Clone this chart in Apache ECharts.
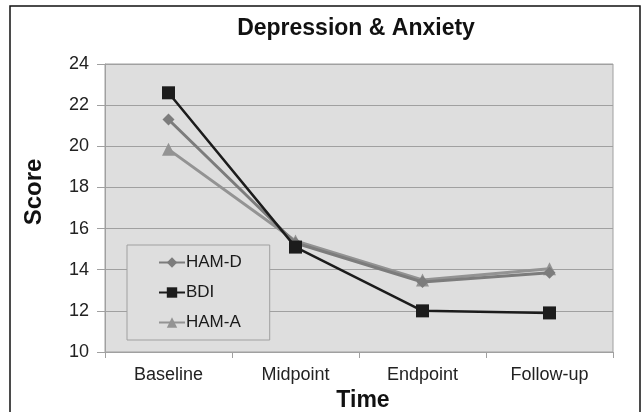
<!DOCTYPE html>
<html>
<head>
<meta charset="utf-8">
<script src="https://cdn.jsdelivr.net/npm/echarts@6/dist/echarts.min.js"></script>
<style>
  html, body { margin: 0; padding: 0; background: #fff; }
  #main { width: 642px; height: 412px; }
</style>
</head>
<body>
<div id="main"></div>
<script>
// chart data
const timePoints = ['Baseline', 'Midpoint', 'Endpoint', 'Follow-up']
const hamD = [21.3, 15.3, 13.4, 13.85]
const bdi = [22.6, 15.1, 12.0, 11.9]
const hamA = [19.85, 15.4, 13.5, 14.05]
const scoreTicks = [10, 12, 14, 16, 18, 20, 22, 24]

const chart = echarts.init(document.getElementById('main'))

const font = 'Liberation Sans, Arial, sans-serif'

let option = {
    backgroundColor: '#fff',
    animation: false,
    textStyle: { fontFamily: font },
    title: {
        text: 'Depression & Anxiety',
        left: 351,
        top: 12,
        textAlign: 'center',
        textStyle: { fontSize: 23, fontWeight: 'bold', color: '#111', fontFamily: font }
    },
    grid: {
        left: 105,
        right: 29,
        top: 64,
        bottom: 60,
        outerBoundsMode: 'none',
        containLabel: false,
        show: true,
        backgroundColor: '#dedede',
        borderColor: '#a0a0a0',
        borderWidth: 1
    },
    legend: {
        orient: 'vertical',
        left: 127,
        top: 245,
        itemWidth: 26,
        itemHeight: 13,
        itemGap: 13,
        padding: [9, 28, 9, 31],
        backgroundColor: '#dedede',
        borderColor: '#a0a0a0',
        borderWidth: 1,
        borderRadius: 0,
        textStyle: { fontSize: 17, color: '#1a1a1a', padding: [0, 0, 0, -4] },
        data: ['HAM-D', 'BDI', 'HAM-A']
    },
    xAxis: {
        type: 'category',
        data: timePoints,
        boundaryGap: true,
        name: 'Time',
        nameLocation: 'middle',
        nameGap: 37,
        nameTextStyle: { fontSize: 23, fontWeight: 'bold', color: '#111', padding: [0, 0, 0, 8] },
        axisLine: { show: true, lineStyle: { color: '#a0a0a0' } },
        axisTick: { show: true, length: 6, alignWithLabel: false, lineStyle: { color: '#a0a0a0' } },
        axisLabel: { fontSize: 18, color: '#222', margin: 14 }
    },
    yAxis: {
        type: 'value',
        min: scoreTicks[0],
        max: scoreTicks[scoreTicks.length - 1],
        interval: 2,
        axisLine: { show: true, lineStyle: { color: '#a0a0a0' } },
        axisTick: { show: true, length: 8, lineStyle: { color: '#a0a0a0' } },
        axisLabel: { fontSize: 18, color: '#222', margin: 16 },
        splitLine: { show: true, lineStyle: { color: '#a0a0a0', width: 1 } }
    },
    series: [
        {
            name: 'HAM-D',
            type: 'line',
            data: hamD,
            symbol: 'diamond',
            symbolSize: 12,
            itemStyle: { color: '#7c7c7c' },
            lineStyle: { color: '#7c7c7c', width: 3 },
            z: 3
        },
        {
            name: 'BDI',
            type: 'line',
            data: bdi,
            symbol: 'rect',
            symbolSize: 13,
            itemStyle: { color: '#1c1c1c' },
            lineStyle: { color: '#1c1c1c', width: 2.5 },
            z: 4
        },
        {
            name: 'HAM-A',
            type: 'line',
            data: hamA,
            symbol: 'triangle',
            symbolSize: 13,
            itemStyle: { color: '#939393' },
            lineStyle: { color: '#939393', width: 3 },
            z: 2
        }
    ],
    graphic: [
        {
            type: 'rect',
            shape: { x: 10, y: 6, width: 630, height: 420 },
            style: { fill: 'none', stroke: '#111', lineWidth: 1.5 },
            silent: true
        },
        {
            type: 'text',
            x: 34,
            y: 192,
            rotation: Math.PI / 2,
            style: {
                text: 'Score',
                font: 'bold 24px ' + font,
                fill: '#111',
                textAlign: 'center',
                textVerticalAlign: 'middle'
            },
            silent: true
        }
    ]
}

chart.setOption(option)
</script>
</body>
</html>
